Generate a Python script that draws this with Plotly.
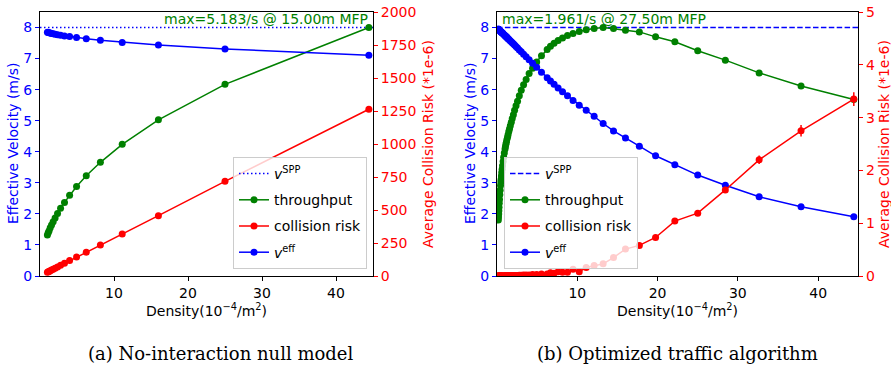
import plotly.graph_objects as go
from plotly.subplots import make_subplots

# ---------------- data ----------------
XLIM = [0, 45]
V_SPP = 8.0

# Panel (a): no-interaction null model
DENS_A = [44.44, 25.00, 16.00, 11.11, 8.16, 6.25, 4.94, 4.00, 3.31, 2.78,
          2.37, 2.04, 1.78, 1.56, 1.38, 1.23, 1.11, 1.00]
VEFF_A = [7.11, 7.31, 7.44, 7.52, 7.59, 7.64, 7.68, 7.71, 7.73, 7.75,
          7.77, 7.78, 7.80, 7.81, 7.82, 7.83, 7.84, 7.85]
VEFF_ERR_A = [0.02, 0.02, 0.02, 0.02, 0.01, 0.01, 0.01, 0.01, 0.01, 0.01,
              0.01, 0.01, 0.01, 0.01, 0.01, 0.01, 0.01, 0.01]
THRU_A = [8.00, 6.17, 5.03, 4.24, 3.66, 3.23, 2.88, 2.60, 2.37, 2.18,
          2.01, 1.87, 1.75, 1.64, 1.55, 1.46, 1.39, 1.32]
RISK_A = [1263, 717, 457, 318, 235, 180, 144, 117, 97, 81,
          69, 59, 52, 45, 40, 35, 32, 29]
RISK_ERR_A = [10, 8, 6, 5, 4, 4, 3, 3, 3, 2,
              2, 2, 2, 2, 2, 2, 1, 1]
MAX_TEXT_A = "max=5.183/s @ 15.00m MFP"

# Panel (b): optimized traffic algorithm
DENS_B = [44.44, 37.87, 32.65, 28.44, 25.00, 22.15, 19.75, 17.73, 16.00, 14.51,
          13.22, 12.10, 11.11, 10.24, 9.47, 8.78, 8.16, 7.61, 7.11, 6.66,
          6.25, 5.54, 4.94, 4.43, 4.00, 3.63, 3.31, 3.02, 2.78, 2.56,
          2.37, 2.19, 2.04, 1.90, 1.78, 1.66, 1.56, 1.47, 1.38, 1.31,
          1.23, 1.17, 1.11, 1.05, 1.00, 0.91, 0.83, 0.76, 0.69, 0.64,
          0.59, 0.55, 0.51, 0.48, 0.44, 0.39, 0.35, 0.31, 0.28, 0.25,
          0.23, 0.21, 0.19, 0.17]
VEFF_B = [1.91, 2.23, 2.55, 2.92, 3.25, 3.58, 3.87, 4.18, 4.44, 4.67,
          4.91, 5.14, 5.34, 5.50, 5.65, 5.80, 5.93, 6.05, 6.17, 6.28,
          6.38, 6.56, 6.72, 6.85, 6.96, 7.06, 7.14, 7.22, 7.28, 7.34,
          7.39, 7.44, 7.48, 7.51, 7.54, 7.57, 7.60, 7.62, 7.64, 7.66,
          7.68, 7.70, 7.71, 7.73, 7.74, 7.76, 7.78, 7.80, 7.82, 7.83,
          7.84, 7.85, 7.86, 7.87, 7.88, 7.89, 7.90, 7.91, 7.92, 7.93,
          7.93, 7.94, 7.94, 7.95]
VEFF_ERR_B = [0.03, 0.03, 0.03, 0.02, 0.02, 0.02, 0.02, 0.02, 0.02, 0.02,
              0.02, 0.02, 0.02, 0.02, 0.01, 0.01, 0.01, 0.01, 0.01, 0.01,
              0.01, 0.01, 0.01, 0.01, 0.01, 0.01, 0.01, 0.01, 0.01, 0.01,
              0.01, 0.01, 0.01, 0.01, 0.01, 0.01, 0.01, 0.01, 0.01, 0.01,
              0.01, 0.01, 0.01, 0.01, 0.01, 0.01, 0.01, 0.01, 0.01, 0.01,
              0.01, 0.01, 0.01, 0.01, 0.01, 0.01, 0.01, 0.01, 0.01, 0.01,
              0.01, 0.01, 0.01, 0.01]
THRU_B = [5.68, 6.12, 6.54, 6.95, 7.25, 7.54, 7.70, 7.86, 7.91, 7.97,
          8.00, 7.97, 7.93, 7.87, 7.81, 7.74, 7.66, 7.58, 7.49, 7.40,
          7.29, 7.09, 6.89, 6.69, 6.52, 6.33, 6.16, 5.98, 5.80, 5.63,
          5.48, 5.34, 5.19, 5.07, 4.95, 4.84, 4.74, 4.65, 4.55, 4.47,
          4.39, 4.31, 4.24, 4.16, 4.09, 3.96, 3.82, 3.69, 3.55, 3.44,
          3.33, 3.22, 3.11, 3.03, 2.91, 2.76, 2.62, 2.46, 2.34, 2.21,
          2.10, 2.00, 1.90, 1.80]
RISK_B = [3.35, 2.75, 2.20, 1.63, 1.19, 1.04, 0.73, 0.58, 0.51, 0.35,
          0.23, 0.20, 0.16, 0.08, 0.13, 0.07, 0.07, 0.08, 0.05, 0.06,
          0.04, 0.04, 0.03, 0.03, 0.02, 0.02, 0.02, 0.015, 0.015, 0.01,
          0.01, 0.01, 0.01, 0.01, 0.008, 0.008, 0.006, 0.006, 0.005, 0.005,
          0.004, 0.004, 0.003, 0.003, 0.003, 0.002, 0.002, 0.002, 0.001, 0.001,
          0.001, 0.001, 0.001, 0.001, 0.0, 0.0, 0.0, 0.0, 0.0, 0.0,
          0.0, 0.0, 0.0, 0.0]
RISK_ERR_B = [0.13, 0.11, 0.08, 0.06, 0.05, 0.04, 0.03, 0.03, 0.02, 0.02,
              0.02, 0.02, 0.02, 0.01, 0.01, 0.01, 0.01, 0.01, 0.01, 0.01,
              0.01, 0.01, 0.01, 0.01, 0.01, 0.01, 0.01, 0.01, 0.01, 0.01,
              0.005, 0.005, 0.005, 0.005, 0.005, 0.005, 0.005, 0.005, 0.005, 0.005,
              0.003, 0.003, 0.003, 0.003, 0.003, 0.002, 0.002, 0.002, 0.002, 0.002,
              0.001, 0.001, 0.001, 0.001, 0.001, 0.001, 0.001, 0.001, 0.001, 0.001,
              0.001, 0.001, 0.001, 0.001]
MAX_TEXT_B = "max=1.961/s @ 27.50m MFP"

X_TICKS = [10, 20, 30, 40]
Y_LEFT_RANGE = [0, 8.5]
Y_RIGHT_RANGE_A = [0, 2000]
Y_RIGHT_RANGE_B = [0, 5]

BLUE, GREEN, RED = "#0000ff", "#008000", "#ff0000"
FONT = "DejaVu Sans"
FS = 14

fig = make_subplots(rows=1, cols=2,
                    specs=[[{"secondary_y": True}, {"secondary_y": True}]])


def add_panel(col, legend, dens, veff, veff_err, thru, risk, risk_err, dash):
    g = legend + "_"
    fig.add_trace(go.Scatter(
        x=XLIM, y=[V_SPP, V_SPP], mode="lines", name="<i>v</i><sup>SPP</sup>",
        line=dict(color=BLUE, width=1.5, dash=dash), legend=legend,
        legendgroup=g + "spp"),
        row=1, col=col, secondary_y=False)
    fig.add_trace(go.Scatter(
        x=dens, y=thru, mode="lines+markers", name="throughput",
        line=dict(color=GREEN, width=1.5), marker=dict(color=GREEN, size=7),
        legend=legend, legendgroup=g + "thru"), row=1, col=col, secondary_y=False)
    fig.add_trace(go.Scatter(
        x=dens, y=risk, mode="lines+markers", name="collision risk",
        line=dict(color=RED, width=1.5), marker=dict(color=RED, size=7),
        error_y=dict(type="data", array=risk_err, color=RED, thickness=1.5, width=0),
        legend=legend, legendgroup=g + "risk"), row=1, col=col, secondary_y=True)
    fig.add_trace(go.Scatter(
        x=dens, y=veff, mode="lines+markers", name="<i>v</i><sup>eff</sup>",
        line=dict(color=BLUE, width=1.5), marker=dict(color=BLUE, size=7),
        error_y=dict(type="data", array=veff_err, color=BLUE, thickness=1.5, width=0),
        legend=legend, legendgroup=g + "veff"), row=1, col=col, secondary_y=False)


add_panel(1, "legend", DENS_A, VEFF_A, VEFF_ERR_A, THRU_A, RISK_A, RISK_ERR_A, "1.5px,2.5px")
add_panel(2, "legend2", DENS_B, VEFF_B, VEFF_ERR_B, THRU_B, RISK_B, RISK_ERR_B, "5.5px,2.4px")

W, H = 891, 369
PLOT_TOP, PLOT_BOT = 12, 276
ydom = [1 - PLOT_BOT / H, 1 - PLOT_TOP / H]
xdom1 = [40 / W, 373 / W]
xdom2 = [497 / W, 858.3 / W]

xcommon = dict(range=XLIM, tickvals=X_TICKS, ticks="outside", ticklen=4, tickwidth=1,
               tickcolor="black", showline=True, linecolor="black", linewidth=1,
               mirror=True, showgrid=False, zeroline=False,
               tickfont=dict(family=FONT, size=FS, color="black"))
yleft = dict(range=Y_LEFT_RANGE, tick0=0, dtick=1, ticks="outside", ticklen=4,
             tickwidth=1, tickcolor=BLUE, showline=True, linecolor="black",
             linewidth=1, mirror=True, showgrid=False, zeroline=False,
             tickfont=dict(family=FONT, size=FS, color=BLUE), domain=ydom)
yright = dict(ticks="outside", ticklen=4, tickwidth=1, tickcolor=RED, showline=False,
              showgrid=False, zeroline=False,
              tickfont=dict(family=FONT, size=FS, color=RED))

legend_common = dict(bgcolor="rgba(255,255,255,0.8)", bordercolor="#cccccc",
                     borderwidth=1, font=dict(family=FONT, size=FS),
                     tracegroupgap=5, itemwidth=30, traceorder="grouped")

fig.update_layout(
    width=W, height=H, margin=dict(l=0, r=0, t=0, b=0, autoexpand=False),
    paper_bgcolor="white", plot_bgcolor="white",
    font=dict(family=FONT, size=FS, color="black"),
    xaxis=dict(domain=xdom1, **xcommon),
    xaxis2=dict(domain=xdom2, **xcommon),
    yaxis=dict(**yleft),
    yaxis3=dict(**yleft),
    yaxis2=dict(range=Y_RIGHT_RANGE_A, tick0=0, dtick=250, **yright),
    yaxis4=dict(range=Y_RIGHT_RANGE_B, tick0=0, dtick=1, **yright),
    legend=dict(x=367 / W, y=1 - 269 / H, xanchor="right", yanchor="bottom",
                **legend_common),
    legend2=dict(x=504 / W, y=1 - 269 / H, xanchor="left", yanchor="bottom",
                 **legend_common),
    showlegend=True,
)


def ann(x, y, text, color="black", size=FS, angle=0, xanchor="center",
        yanchor="middle", family=FONT):
    fig.add_annotation(x=x / W, y=1 - y / H, xref="paper", yref="paper", text=text,
                       showarrow=False, textangle=angle, xanchor=xanchor,
                       yanchor=yanchor, font=dict(family=family, size=size, color=color))


ymid = (PLOT_TOP + PLOT_BOT) / 2
ann(13, ymid, "Effective Velocity (m/s)", BLUE, angle=-90)
ann(428, ymid, "Average Collision Risk (*1e-6)", RED, angle=-90)
ann(470, ymid, "Effective Velocity (m/s)", BLUE, angle=-90)
ann(884, ymid, "Average Collision Risk (*1e-6)", RED, angle=-90)
ann(206.5, 299, "Density(10<sup>−4</sup>/m<sup>2</sup>)", yanchor="top")
ann(677.6, 299, "Density(10<sup>−4</sup>/m<sup>2</sup>)", yanchor="top")
ann(370, 19, MAX_TEXT_A, GREEN, xanchor="right")
ann(500, 19, MAX_TEXT_B, GREEN, xanchor="left")
ann(220, 353, "(a) No-interaction null model", size=18, family="DejaVu Serif")
ann(677, 353, "(b) Optimized traffic algorithm", size=18, family="DejaVu Serif")

fig.write_html("out.html")
